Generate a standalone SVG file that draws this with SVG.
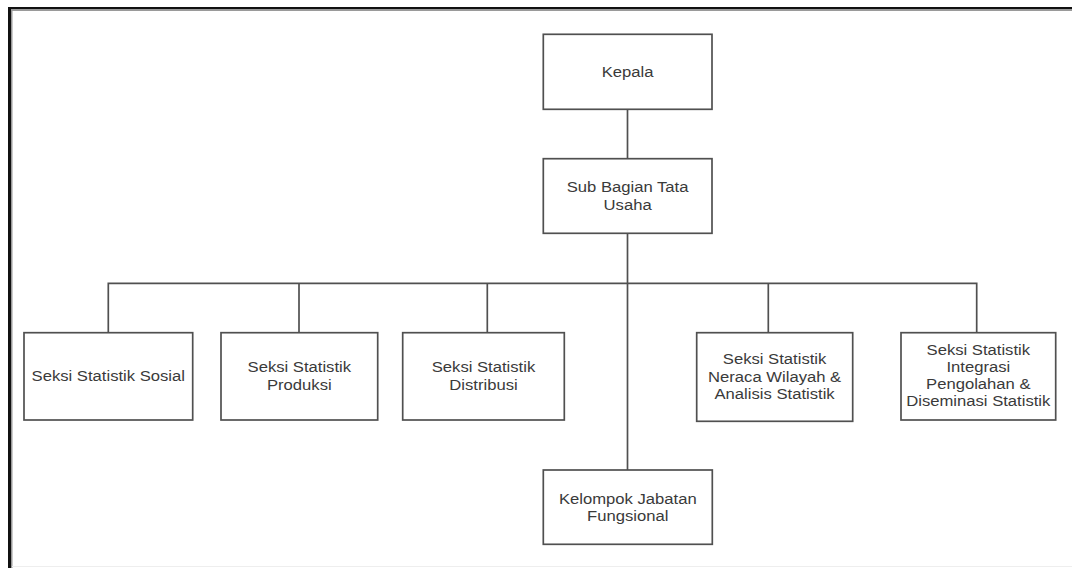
<svg xmlns="http://www.w3.org/2000/svg" width="1072" height="568" viewBox="0 0 1072 568">
<style>
.box{fill:#ffffff;stroke:#505050;stroke-width:1.7}
.ln{fill:none;stroke:#505050;stroke-width:1.7}
.t{font-family:"Liberation Sans",Arial,sans-serif;font-size:15px;fill:#3a3a3a;text-anchor:middle}
</style>
<rect x="0" y="0" width="1072" height="568" fill="#ffffff"/>
<rect x="8" y="7" width="1064" height="2" fill="#111"/>
<rect x="8" y="9" width="1064" height="2" fill="#9a9a9a"/>
<rect x="8" y="7" width="3" height="561" fill="#111"/>
<rect x="11" y="9" width="1.5" height="559" fill="#9a9a9a"/>
<rect x="12" y="566" width="1060" height="1" fill="#eeeeee"/>
<g id="connectors">
<path class="ln" d="M627.5 109.5 V158.5"/>
<path class="ln" d="M627.5 233.5 V470"/>
<path class="ln" d="M108.3 333 V283.3 H976.7 V333"/>
<path class="ln" d="M299 283.3 V333"/>
<path class="ln" d="M487.3 283.3 V333"/>
<path class="ln" d="M768.3 283.3 V333"/>
</g>
<g id="kepala">
<rect class="box" x="543.3" y="34.3" width="168.7" height="75"/>
<g transform="translate(627.6,0) scale(1.11,1)"><text class="t" x="0" y="76.7">Kepala</text></g>
</g>
<g id="subbagian">
<rect class="box" x="543.3" y="158.7" width="168.7" height="74.6"/>
<g transform="translate(627.6,0) scale(1.11,1)"><text class="t" x="0" y="192.3">Sub Bagian Tata</text><text class="t" x="0" y="210">Usaha</text></g>
</g>
<g id="sosial">
<rect class="box" x="24" y="332.7" width="168.7" height="87.3"/>
<g transform="translate(108.3,0) scale(1.11,1)"><text class="t" x="0" y="381.2">Seksi Statistik Sosial</text></g>
</g>
<g id="produksi">
<rect class="box" x="221" y="332.7" width="156.7" height="87.3"/>
<g transform="translate(299.3,0) scale(1.11,1)"><text class="t" x="0" y="372.5">Seksi Statistik</text><text class="t" x="0" y="390">Produksi</text></g>
</g>
<g id="distribusi">
<rect class="box" x="402.7" y="332.7" width="161.6" height="87.3"/>
<g transform="translate(483.5,0) scale(1.11,1)"><text class="t" x="0" y="372.5">Seksi Statistik</text><text class="t" x="0" y="390">Distribusi</text></g>
</g>
<g id="neraca">
<rect class="box" x="696.7" y="332.7" width="156" height="88.6"/>
<g transform="translate(774.6,0) scale(1.11,1)"><text class="t" x="0" y="364.5">Seksi Statistik</text><text class="t" x="0" y="382">Neraca Wilayah &amp;</text><text class="t" x="0" y="399.5">Analisis Statistik</text></g>
</g>
<g id="integrasi">
<rect class="box" x="901" y="332.7" width="154.7" height="87.3"/>
<g transform="translate(978.3,0) scale(1.11,1)"><text class="t" x="0" y="355.5">Seksi Statistik</text><text class="t" x="0" y="372.2">Integrasi</text><text class="t" x="0" y="388.9">Pengolahan &amp;</text><text class="t" x="0" y="405.6">Diseminasi Statistik</text></g>
</g>
<g id="kelompok">
<rect class="box" x="543.3" y="470" width="169" height="74.3"/>
<g transform="translate(627.8,0) scale(1.11,1)"><text class="t" x="0" y="504">Kelompok Jabatan</text><text class="t" x="0" y="521.5">Fungsional</text></g>
</g>
</svg>
